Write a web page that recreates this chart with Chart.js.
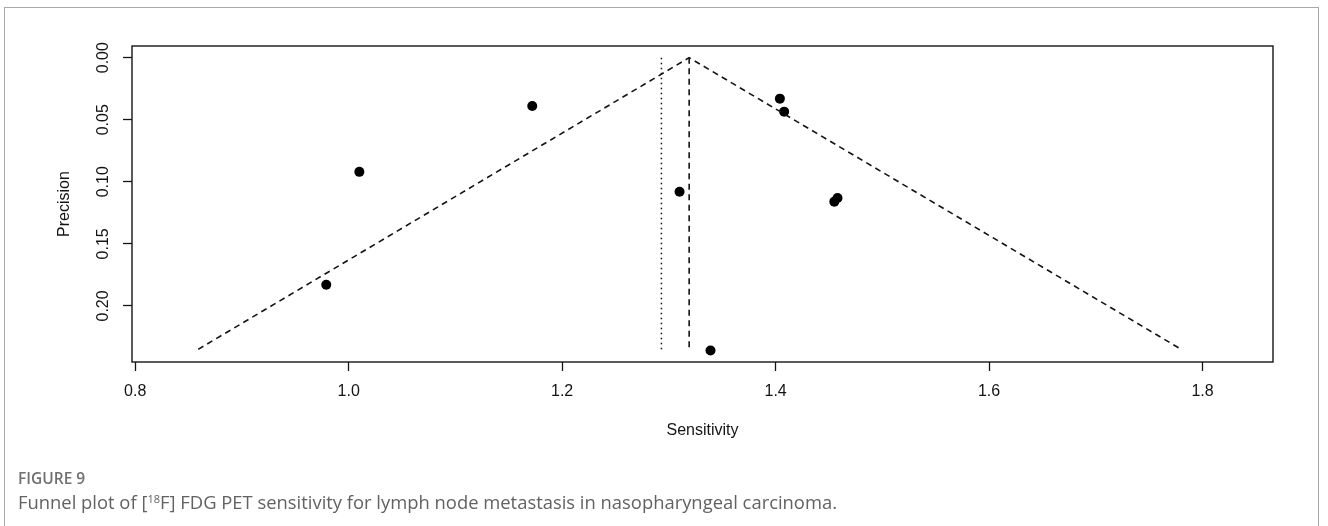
<!DOCTYPE html>
<html>
<head>
<meta charset="utf-8">
<script src="https://cdn.jsdelivr.net/npm/chart.js@4"></script>
<style>
  html, body { margin: 0; padding: 0; background: #fff; }
  #wrap { position: relative; width: 1328px; height: 526px; overflow: hidden; }
  #frame { position: absolute; left: 4px; top: 7px; width: 1313px; height: 600px;
           border: 1px solid #a8a8a8; border-bottom: none; }
  #plot { position: absolute; left: 0; top: 0; }
  .fig-num { position: absolute; left: 18px; top: 467px; font-family: "Open Sans", sans-serif;
             font-size: 15.5px; font-weight: 600; color: #707070; }
  .fig-cap { position: absolute; left: 18px; top: 489px; font-family: "Open Sans", sans-serif;
             font-size: 18.4px; color: #626262; white-space: nowrap; }
  .fig-cap sup { font-size: 11px; vertical-align: 6px; line-height: 0; }
</style>
</head>
<body>
<div id="wrap">
  <div id="frame"></div>
  <canvas id="plot" width="1328" height="526"></canvas>
  <div class="fig-num">FIGURE 9</div>
  <div class="fig-cap">Funnel plot of [<sup>18</sup>F] FDG PET sensitivity for lymph node metastasis in nasopharyngeal carcinoma.</div>
</div>
<script>
// study points: sensitivity (x) vs precision / standard error (y)
const studySens = [0.979, 1.010, 1.172, 1.310, 1.339, 1.404, 1.408, 1.455, 1.458];
const studyPrec = [0.183, 0.092, 0.039, 0.108, 0.236, 0.033, 0.0435, 0.116, 0.113];

// funnel outline (left foot, apex, right foot)
const funnelX = [0.859, 1.319, 1.780];
const funnelY = [0.235, 0.000, 0.235];

// summary estimate (dashed) and the second reference line (dotted)
const summaryX = 1.319;
const dottedX = 1.293;
const refLineY = [0.000, 0.235];

// tick labels
const xTicks = [0.8, 1.0, 1.2, 1.4, 1.6, 1.8];
const yTicks = [0.00, 0.05, 0.10, 0.15, 0.20];

const axisFont = { family: '"Liberation Sans", Arial, sans-serif', size: 16 };
const ink = '#141414';

// R style box around the plot region
const boxPlugin = {
  id: 'box',
  afterDraw(chart) {
    const a = chart.chartArea, ctx = chart.ctx;
    ctx.save();
    ctx.strokeStyle = ink;
    ctx.lineWidth = 1.4;
    ctx.strokeRect(a.left, a.top, a.right - a.left, a.bottom - a.top);
    ctx.restore();
  }
};

const lineStyle = { type: 'line', borderColor: ink, borderWidth: 1.6, pointRadius: 0, fill: false, tension: 0 };

new Chart(document.getElementById('plot'), {
  type: 'scatter',
  data: {
    datasets: [
      Object.assign({}, lineStyle, {
        label: 'funnel',
        data: funnelX.map((x, i) => ({ x: x, y: funnelY[i] })),
        borderDash: [6, 4.5]
      }),
      Object.assign({}, lineStyle, {
        label: 'estimate',
        data: refLineY.map(y => ({ x: summaryX, y: y })),
        borderDash: [6, 4.5]
      }),
      Object.assign({}, lineStyle, {
        label: 'dotted',
        data: refLineY.map(y => ({ x: dottedX, y: y })),
        borderWidth: 1.5,
        borderDash: [1.5, 3.5]
      }),
      {
        label: 'studies',
        data: studySens.map((x, i) => ({ x: x, y: studyPrec[i] })),
        backgroundColor: '#000',
        borderWidth: 0,
        pointRadius: 5
      }
    ]
  },
  options: {
    responsive: false,
    animation: false,
    layout: { padding: { left: 0, top: 46, right: 55, bottom: 64 } },
    plugins: { legend: { display: false }, tooltip: { enabled: false } },
    scales: {
      x: {
        type: 'linear',
        min: 0.797,
        max: 1.866,
        afterBuildTicks: s => { s.ticks = xTicks.map(v => ({ value: v })); },
        afterFit: s => { s.height = 100; },
        grid: { display: true, drawOnChartArea: false, drawTicks: true, tickLength: 9, tickColor: ink, tickWidth: 1.3 },
        border: { display: false },
        ticks: { color: ink, font: axisFont, padding: 11, maxRotation: 0, autoSkip: false,
                 callback: v => Number(v).toFixed(1) },
        title: { display: true, text: 'Sensitivity', color: ink, font: axisFont, padding: { top: 0, bottom: 22 } }
      },
      y: {
        type: 'linear',
        reverse: true,
        min: -0.0094,
        max: 0.2452,
        afterBuildTicks: s => { s.ticks = yTicks.map(v => ({ value: v })); },
        afterFit: s => { s.width = 132; },
        grid: { display: true, drawOnChartArea: false, drawTicks: true, tickLength: 9, tickColor: ink, tickWidth: 1.3 },
        border: { display: false },
        ticks: { color: ink, font: axisFont, padding: 4, minRotation: 90, maxRotation: 90,
                 crossAlign: 'center', autoSkip: false,
                 callback: v => Number(v).toFixed(2) },
        title: { display: true, text: 'Precision', color: ink, font: axisFont, padding: { top: 55, bottom: 0 } }
      }
    }
  },
  plugins: [boxPlugin]
});
</script>
</body>
</html>
